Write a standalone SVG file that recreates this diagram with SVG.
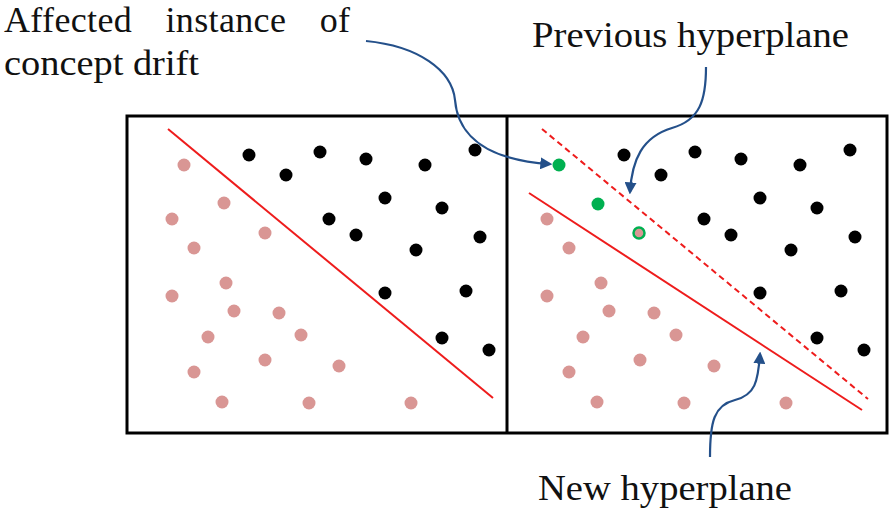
<svg xmlns="http://www.w3.org/2000/svg" width="890" height="511" viewBox="0 0 890 511">
<style>
text{font-family:'Liberation Serif','Times New Roman',Times,'DejaVu Serif',serif;font-size:36px;fill:#111}
.k{fill:#000}
.p{fill:#D99694}
.g{fill:#00B050}
.hp{stroke:#EE1C1C;stroke-width:2;fill:none}
.ar{stroke:#24508A;stroke-width:2.2;fill:none;marker-end:url(#ah)}
</style>
<defs>
<marker id="ah" viewBox="0 0 10 10" refX="8" refY="5" markerWidth="5.5" markerHeight="5.5" orient="auto" markerUnits="strokeWidth">
<path d="M0,0 L10,5 L0,10 Z" fill="#24508A"/>
</marker>
<g id="blk">
<circle cx="249" cy="155" r="6.5"/><circle cx="320" cy="152" r="6.5"/><circle cx="366" cy="159" r="6.5"/><circle cx="425" cy="165" r="6.5"/><circle cx="475" cy="150" r="6.5"/><circle cx="286" cy="175" r="6.5"/><circle cx="385" cy="198" r="6.5"/><circle cx="442" cy="208" r="6.5"/><circle cx="329" cy="219" r="6.5"/><circle cx="356" cy="235" r="6.5"/><circle cx="416" cy="250" r="6.5"/><circle cx="480" cy="237" r="6.5"/><circle cx="385" cy="293" r="6.5"/><circle cx="466" cy="291" r="6.5"/><circle cx="442" cy="338" r="6.5"/><circle cx="489" cy="350" r="6.5"/>
</g>
<g id="pnk">
<circle cx="172" cy="219" r="6.5"/><circle cx="194" cy="248" r="6.5"/><circle cx="226" cy="283" r="6.5"/><circle cx="172" cy="296" r="6.5"/><circle cx="234" cy="311" r="6.5"/><circle cx="279" cy="313" r="6.5"/><circle cx="208" cy="337" r="6.5"/><circle cx="301" cy="335" r="6.5"/><circle cx="265" cy="360" r="6.5"/><circle cx="194" cy="372" r="6.5"/><circle cx="339" cy="366" r="6.5"/><circle cx="222" cy="402" r="6.5"/><circle cx="309" cy="403" r="6.5"/><circle cx="411" cy="403" r="6.5"/>
</g>
</defs>
<rect x="0" y="0" width="890" height="511" fill="#fff"/>
<g id="frame" fill="none" stroke="#000" stroke-width="3">
<rect x="127" y="116" width="760" height="317"/>
<line x1="507" y1="116" x2="507" y2="433"/>
</g>
<g id="left-panel">
<line class="hp" x1="168" y1="129" x2="493" y2="398"/>
<use href="#blk" class="k"/>
<g class="p"><use href="#pnk"/><circle cx="184" cy="165" r="6.5"/><circle cx="224" cy="203" r="6.5"/><circle cx="265" cy="233" r="6.5"/></g>
</g>
<g id="right-panel">
<line class="hp" x1="542" y1="129" x2="868" y2="399" stroke-dasharray="6,4"/>
<line class="hp" x1="529" y1="193" x2="862" y2="410"/>
<use href="#blk" class="k" x="375"/>
<use href="#pnk" class="p" x="375"/>
<circle class="g" cx="559" cy="165" r="6.5"/>
<circle class="g" cx="598" cy="204" r="6.5"/>
<circle cx="639" cy="233" r="5.5" fill="#D99694" stroke="#00B050" stroke-width="2.5"/>
</g>
<g id="connectors">
<path class="ar" d="M366,41 C418,46 452,70 455,100 C458,138 490,160 550,164"/>
<path class="ar" d="M706,67 C706,100 700,120 672,128 C642,137 632,160 630,192"/>
<path class="ar" d="M710,457 C710,422 714,405 735,400 C755,395 758,382 760,354"/>
</g>
<g id="label-affected">
<text x="4" y="32" textLength="346" lengthAdjust="spacing" word-spacing="24">Affected instance of</text>
<text x="4" y="75" textLength="195" lengthAdjust="spacingAndGlyphs">concept drift</text>
</g>
<g id="label-previous"><text x="532" y="47" textLength="317" lengthAdjust="spacingAndGlyphs">Previous hyperplane</text></g>
<g id="label-new"><text x="538" y="500" textLength="254" lengthAdjust="spacingAndGlyphs">New hyperplane</text></g>
</svg>
